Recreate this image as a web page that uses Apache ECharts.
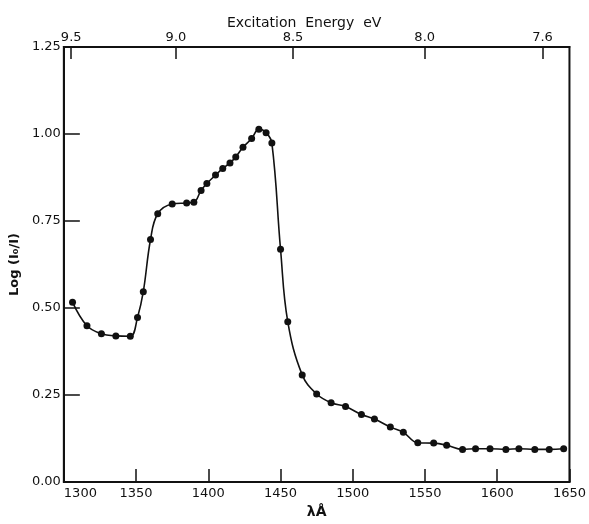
<!DOCTYPE html>
<html>
<head>
<meta charset="utf-8">
<script src="https://cdn.jsdelivr.net/npm/echarts@6/dist/echarts.min.js"></script>
<style>
  html, body { margin: 0; padding: 0; background: #fff; }
  #chart { width: 589px; height: 524px; }
</style>
</head>
<body>
<div id="chart"></div>
<script>
// wavelength (A) and Log(Io/I)
var wavelength = [1306, 1316, 1326, 1336, 1346, 1351, 1355, 1360, 1365, 1375, 1385, 1390,
                  1395, 1399, 1405, 1410, 1415, 1419, 1424, 1430, 1435, 1440, 1444, 1450,
                  1455, 1465, 1475, 1485, 1495, 1506, 1515, 1526, 1535, 1545, 1556, 1565,
                  1576, 1585, 1595, 1606, 1615, 1626, 1636, 1646];
var absorbance = [0.517, 0.449, 0.426, 0.420, 0.419, 0.473, 0.547, 0.697, 0.771, 0.799, 0.802, 0.804,
                  0.838, 0.858, 0.882, 0.901, 0.917, 0.934, 0.962, 0.987, 1.014, 1.004, 0.974, 0.669,
                  0.461, 0.308, 0.253, 0.228, 0.217, 0.194, 0.181, 0.158, 0.143, 0.113, 0.112, 0.106,
                  0.094, 0.096, 0.096, 0.094, 0.096, 0.094, 0.094, 0.096];
var xTicks = [1300, 1350, 1400, 1450, 1500, 1550, 1600, 1650];
var eVTicks = [9.5, 9.0, 8.5, 8.0, 7.6];
var HC = 12398.4; // eV*A

var chart = echarts.init(document.getElementById('chart'));

var points = [];
for (var i = 0; i < wavelength.length; i++) {
  points.push([wavelength[i], absorbance[i]]);
}
var eVPos = eVTicks.map(function (e) { return HC / e; });

var font = 'DejaVu Sans';

var option = {
  animation: false,
  backgroundColor: '#fff',
  title: {
    text: 'Excitation  Energy  eV',
    left: 222,
    top: 11,
    textStyle: { fontFamily: font, fontSize: 14, fontWeight: 'normal', color: '#111' }
  },
  grid: {
    left: 63.5, right: 18, top: 47, bottom: 31,
    show: true, borderColor: '#111', borderWidth: 2
  },
  xAxis: [{
    type: 'value',
    position: 'bottom',
    min: 1300, max: 1650, interval: 50,
    name: 'λÅ',
    nameLocation: 'middle',
    nameGap: 18,
    nameTextStyle: { fontFamily: font, fontSize: 14, fontWeight: 'bold', color: '#111' },
    splitLine: { show: false },
    axisLine: { lineStyle: { color: '#111', width: 2 } },
    axisTick: { inside: true, length: 13, lineStyle: { color: '#111', width: 1.5 } },
    axisLabel: {
      fontFamily: font, fontSize: 13, color: '#111', margin: 5,
      alignMinLabel: 'left',
      customValues: xTicks,
      formatter: function (v) { return String(v); }
    }
  }, {
    type: 'value',
    position: 'top',
    min: 1300, max: 1650,
    splitLine: { show: false },
    axisLine: { lineStyle: { color: '#111', width: 2 } },
    axisTick: { inside: true, length: 12, customValues: eVPos, lineStyle: { color: '#111', width: 1.5 } },
    axisLabel: {
      fontFamily: font, fontSize: 13, color: '#111', margin: 3,
      customValues: eVPos,
      formatter: function (v) { return (HC / v).toFixed(1); }
    }
  }],
  yAxis: {
    type: 'value',
    min: 0, max: 1.25, interval: 0.25,
    name: 'Log (I₀/I)',
    nameLocation: 'middle',
    nameGap: 38,
    nameTextStyle: { fontFamily: font, fontSize: 13, fontWeight: 'bold', color: '#111' },
    splitLine: { show: false },
    axisLine: { lineStyle: { color: '#111', width: 2 } },
    axisTick: { inside: true, length: 16, lineStyle: { color: '#111', width: 1.5 } },
    axisLabel: {
      fontFamily: font, fontSize: 13, color: '#111', margin: 3,
      formatter: function (v) { return v.toFixed(2); }
    }
  },
  series: [{
    type: 'line',
    data: points,
    smooth: 0.4,
    symbol: 'circle',
    symbolSize: 7,
    itemStyle: { color: '#111' },
    lineStyle: { color: '#111', width: 1.6 }
  }]
};

chart.setOption(option);
</script>
</body>
</html>
